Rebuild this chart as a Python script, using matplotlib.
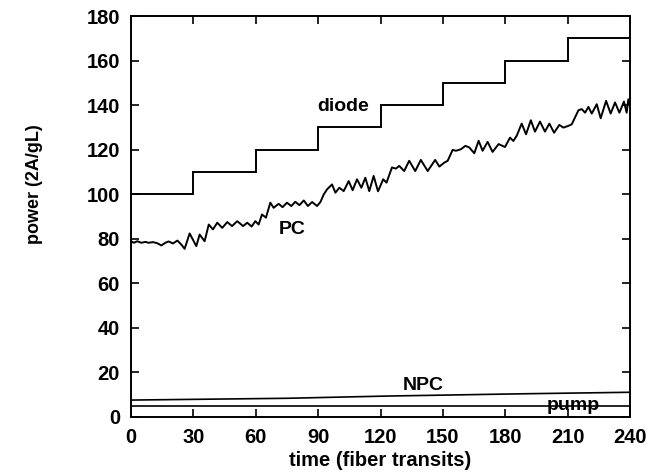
import matplotlib
matplotlib.use('Agg')
import matplotlib.pyplot as plt

# ---- data ----
diode_edges = [0, 30, 60, 90, 120, 150, 180, 210, 240]
diode_levels = [100, 110, 120, 130, 140, 150, 160, 170]

pc_t = [0, 1.4, 3.0, 5.0, 6.9, 8.5, 10.6, 12.7, 14.6, 16.5, 18.1, 20.2, 22.3, 24.2,
        25.8, 28.2, 31.4, 33.0, 35.4, 37.4, 39.4, 41.5, 43.9, 46.3, 48.6, 51.1,
        53.9, 55.9, 58.0, 59.8, 61.4, 63.0, 64.9, 67.0, 68.6, 71.0, 72.9, 75.0,
        77.1, 79.0, 81.0, 83.1, 85.1, 87.1, 89.5, 91.1, 92.7, 94.3, 96.7, 98.3,
        100.2, 102.3, 104.7, 106.6, 108.7, 110.8, 112.7, 114.6, 116.7, 118.8,
        121.3, 122.9, 125.5, 127.4, 129.0, 131.4, 133.8, 136.7, 139.4, 142.7,
        146.3, 148.3, 150.7, 152.3, 154.7, 156.3, 158.7, 160.8, 162.7, 165.1,
        167.2, 169.1, 171.5, 173.9, 176.8, 178.7, 179.9, 182.3, 183.9, 185.5,
        187.9, 190.0, 192.3, 194.3, 196.7, 199.1, 201.2, 203.5, 206.0, 208.0,
        210.4, 212.0, 215.2, 216.8, 218.4, 220.0, 221.6, 224.0, 225.9, 228.5,
        230.7, 232.8, 234.9, 237.1, 238.4, 239.2, 240.0]
pc_v = [78.9, 78.2, 78.9, 78.2, 78.6, 78.2, 78.5, 78.0, 77.0, 78.2, 78.8, 77.9, 79.2, 77.4,
        75.5, 82.4, 76.7, 81.9, 78.9, 86.4, 84.2, 87.2, 84.9, 87.5, 85.7, 87.9,
        85.7, 87.2, 85.5, 87.9, 86.4, 90.9, 89.5, 96.2, 93.9, 95.7, 94.2, 96.2,
        94.7, 96.6, 95.1, 97.2, 94.7, 96.5, 94.7, 96.5, 99.9, 102.2, 104.4, 100.7,
        102.9, 101.4, 105.9, 101.8, 106.7, 102.9, 107.4, 101.4, 108.2, 101.3,
        106.7, 105.2, 112.0, 111.5, 112.7, 110.4, 115.0, 110.4, 115.4, 110.4,
        115.4, 112.4, 114.2, 115.0, 119.9, 119.5, 120.2, 121.7, 121.0, 118.4,
        124.0, 119.5, 123.5, 119.0, 122.5, 121.7, 121.2, 125.4, 123.9, 126.2,
        131.7, 126.9, 133.2, 128.1, 132.6, 128.1, 131.7, 127.6, 131.1, 129.9,
        130.7, 131.4, 137.7, 138.2, 136.6, 139.2, 136.2, 140.4, 134.1, 141.9,
        136.2, 141.2, 136.6, 141.6, 136.6, 142.6, 140.0]

npc_t = [0, 75, 123, 155, 187, 240]
npc_v = [7.6, 8.4, 9.4, 9.9, 10.4, 11.1]

pump_t = [0, 240]
pump_v = [4.9, 4.9]

x_ticks = [0, 30, 60, 90, 120, 150, 180, 210, 240]
y_ticks = [0, 20, 40, 60, 80, 100, 120, 140, 160, 180]

labels = ["diode", "PC", "NPC", "pump"]
label_x = [102, 77.3, 140.4, 212.6]
label_y = [137.4, 82.2, 12.2, 3.0]

# ---- figure ----
plt.rcParams['font.family'] = ['Liberation Sans', 'DejaVu Sans']
fig = plt.figure(figsize=(6.5, 4.74), dpi=100)
ax = fig.add_axes([131 / 650, 1 - 417 / 474, 499 / 650, 401 / 474])

ax.stairs(diode_levels, diode_edges, color='black', lw=1.4, baseline=None)
ax.plot(pc_t, pc_v, color='black', lw=1.4)
ax.plot(npc_t, npc_v, color='black', lw=1.2)
ax.plot(pump_t, pump_v, color='black', lw=1.2)

for s, x, y in zip(labels, label_x, label_y):
    ax.text(x, y, s, ha='center', va='baseline', fontsize=14, fontweight='bold')

ax.set_xlim(0, 240)
ax.set_ylim(0, 180)
ax.set_xticks(x_ticks)
ax.set_yticks(y_ticks)
ax.tick_params(direction='in', length=6, width=1.2, top=True, right=True,
               labelsize=14.5, pad=8)
for lab in ax.get_xticklabels() + ax.get_yticklabels():
    lab.set_fontweight('bold')
for sp in ax.spines.values():
    sp.set_linewidth(1.4)

ax.set_xlabel('time (fiber transits)', fontsize=14.5, fontweight='bold', labelpad=3)
ax.set_ylabel('power (2A/gL)', fontsize=13, fontweight='bold')
ax.yaxis.set_label_coords(-0.176, 0.58)

fig.savefig('out.png', dpi=100)
